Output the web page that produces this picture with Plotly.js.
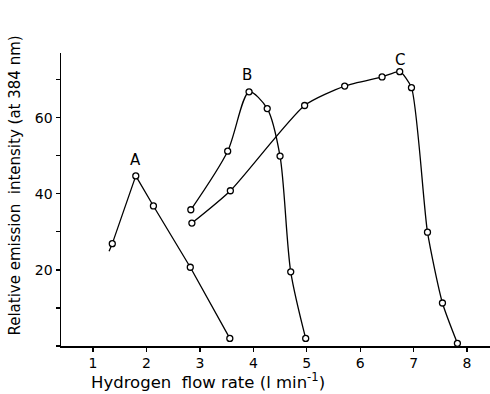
<!DOCTYPE html>
<html>
<head>
<meta charset="utf-8">
<script src="https://cdn.plot.ly/plotly-3.0.1.min.js"></script>
<style>html,body{margin:0;padding:0;background:#fff;}#chart{width:490px;height:394px;}</style>
</head>
<body>
<div id="chart"></div>
<script>
// Curve A (first point is the start of the drawn line, without a marker)
const xA = [1.30, 1.36, 1.80, 2.13, 2.82, 3.56];
const yA = [24.9, 26.9, 44.7, 36.8, 20.7, 2.0];
// Curve B
const xB = [2.83, 3.52, 3.92, 4.26, 4.50, 4.70, 4.98];
const yB = [35.8, 51.2, 66.8, 62.4, 49.9, 19.5, 2.0];
// Curve C
const xC = [2.85, 3.57, 4.96, 5.71, 6.41, 6.74, 6.96, 7.26, 7.54, 7.82];
const yC = [32.3, 40.8, 63.2, 68.3, 70.7, 72.1, 67.9, 29.9, 11.3, 0.7];
// Curve labels
const labelText = ['A', 'B', 'C'];
const labelX = [1.79, 3.89, 6.75];
const labelY = [48.8, 71.2, 75.1];
// Ticks
const xTickVals = [1, 2, 3, 4, 5, 6, 7, 8];
const yTickVals = [20, 40, 60];
const yMinorStep = 10;

const FONT = 'DejaVu Sans, sans-serif';
const lineStyle = {color: '#000', width: 1.3};
const mk = {symbol: 'circle', size: 6, color: '#fff', line: {color: '#000', width: 1.3}};
const traces = [
  {x: xA, y: yA, mode: 'lines', line: Object.assign({shape: 'linear'}, lineStyle), showlegend: false, hoverinfo: 'skip'},
  {x: xA.slice(1), y: yA.slice(1), mode: 'markers', marker: mk, showlegend: false, hoverinfo: 'skip'},
  {x: xB, y: yB, mode: 'lines+markers', line: Object.assign({shape: 'spline', smoothing: 0.8}, lineStyle), marker: mk, showlegend: false, hoverinfo: 'skip'},
  {x: xC, y: yC, mode: 'lines+markers', line: Object.assign({shape: 'spline', smoothing: 0.6}, lineStyle), marker: mk, showlegend: false, hoverinfo: 'skip'}
];
const annotations = labelText.map((t, i) => ({
  x: labelX[i], y: labelY[i], xref: 'x', yref: 'y', text: t, showarrow: false,
  font: {family: FONT, size: 15, color: '#000'}
}));
annotations.push({
  xref: 'paper', yref: 'paper', x: -0.107, y: 0.548, xanchor: 'center', yanchor: 'middle',
  text: 'Relative emission  intensity (at 384 nm)',
  textangle: -90, showarrow: false, font: {family: FONT, size: 15, color: '#000'}
});
annotations.push({
  xref: 'paper', yref: 'paper', x: 0.342, y: -0.118, xanchor: 'center', yanchor: 'middle',
  text: 'Hydrogen  flow rate (l min<sup>-1</sup>)',
  showarrow: false, font: {family: FONT, size: 16.5, color: '#000'}
});
const layout = {
  width: 490, height: 394,
  margin: {l: 61, r: 0, t: 53, b: 48},
  paper_bgcolor: '#fff', plot_bgcolor: '#fff',
  font: {family: FONT, size: 14, color: '#000'},
  xaxis: {range: [0.4, 8.43], tickvals: xTickVals, ticks: 'outside', ticklen: 4, tickwidth: 1.2, tickcolor: '#000',
    showline: true, linecolor: '#000', linewidth: 1.5, showgrid: false, zeroline: false,
    tickfont: {family: FONT, size: 14}},
  yaxis: {range: [0, 77], tickvals: yTickVals, ticks: 'outside', ticklen: 4, tickwidth: 1.2, tickcolor: '#000',
    minor: {tick0: 0, dtick: yMinorStep, ticks: 'outside', ticklen: 4, tickwidth: 1.2, tickcolor: '#000', showgrid: false},
    showline: true, linecolor: '#000', linewidth: 1.5, showgrid: false, zeroline: false,
    tickfont: {family: FONT, size: 14}},
  annotations: annotations
};
Plotly.newPlot('chart', traces, layout, {staticPlot: true, displayModeBar: false});
</script>
</body>
</html>
